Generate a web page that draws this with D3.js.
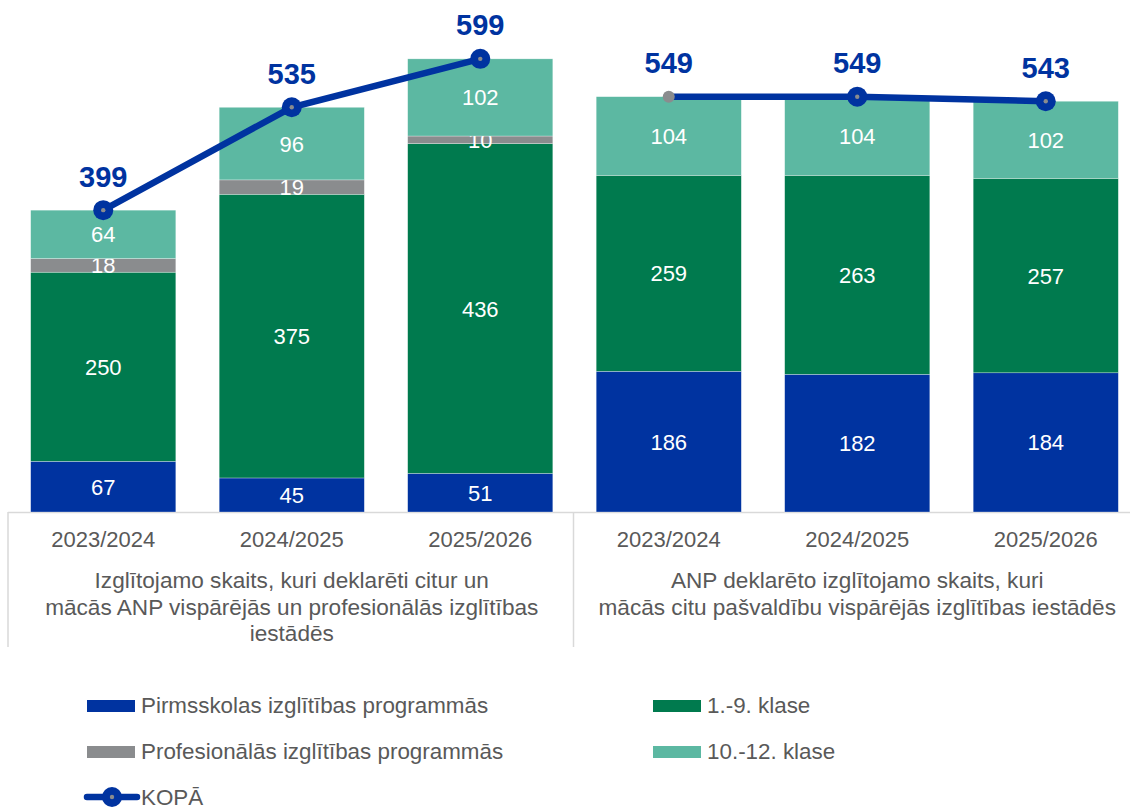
<!DOCTYPE html>
<html><head><meta charset="utf-8">
<script src="https://cdn.jsdelivr.net/npm/d3@7"></script>
<style>
html,body{margin:0;padding:0;background:#fff;}
svg{display:block;font-family:"Liberation Sans",Arial,sans-serif;}
</style></head>
<body>
<svg id="chart" width="1130" height="808"></svg>
<script>
const categories = ["2023/2024","2024/2025","2025/2026","2023/2024","2024/2025","2025/2026"];
const groupLabels = [
  ["Izglītojamo skaits, kuri deklarēti citur un","mācās ANP vispārējās un profesionālās izglītības","iestādēs"],
  ["ANP deklarēto izglītojamo skaits, kuri","mācās citu pašvaldību vispārējās izglītības iestādēs"]
];
const groupOf = [0,0,0,1,1,1];
const pirmsskolas = [67,45,51,186,182,184];
const klase1_9 = [250,375,436,259,263,257];
const profesionalas = [18,19,10,0,0,0];
const klase10_12 = [64,96,102,104,104,102];
const kopa = [399,535,599,549,549,543];
const seriesNames = ["Pirmsskolas izglītības programmās","1.-9. klase","Profesionālās izglītības programmās","10.-12. klase"];
const lineName = "KOPĀ";

const colors = ["#0033A0","#007A4E","#8A8C8E","#5CB8A2"];
const lineColor = "#0033A0";
const textGray = "#595959";

const svg = d3.select("#chart");
const idx = categories.map((c,i)=>i);
const x = d3.scaleBand().domain(idx).range([9,1140]).paddingInner(0.23).paddingOuter(0.115);
const y = d3.scaleLinear().domain([0,700]).range([512,512-0.7565*700]);

const stackData = idx.map(i=>({i, s0:pirmsskolas[i], s1:klase1_9[i], s2:profesionalas[i], s3:klase10_12[i]}));
const stack = d3.stack().keys(["s0","s1","s2","s3"]);
const layers = stack(stackData);

// axis lines
const axisColor = "#D9D9D9";
svg.append("line").attr("x1",8).attr("x2",1130).attr("y1",512.5).attr("y2",512.5).attr("stroke",axisColor).attr("stroke-width",1.5);
[8,573.5].forEach(xx=>svg.append("line").attr("x1",xx).attr("x2",xx).attr("y1",512).attr("y2",647).attr("stroke",axisColor).attr("stroke-width",1.5));

// bars
layers.forEach((layer,k)=>{
  const g = svg.append("g");
  g.selectAll("rect").data(layer).join("rect")
    .attr("x",d=>x(d.data.i)).attr("width",x.bandwidth())
    .attr("y",d=>y(d[1])).attr("height",d=>Math.max(0,y(d[0])-y(d[1])))
    .attr("fill",colors[k]).attr("stroke","#ffffff").attr("stroke-width",0.5).attr("stroke-opacity",0.6);
  g.selectAll("text").data(layer.filter(d=>d[1]-d[0]>0)).join("text")
    .attr("x",d=>x(d.data.i)+x.bandwidth()/2)
    .attr("y",d=>(y(d[0])+y(d[1]))/2+8)
    .attr("text-anchor","middle")
    .attr("fill","#fff").attr("font-size",22)
    .text(d=>d[1]-d[0]);
});

// category labels
svg.append("g").selectAll("text").data(idx).join("text")
  .attr("x",i=>x(i)+x.bandwidth()/2).attr("y",547)
  .attr("text-anchor","middle").attr("fill",textGray).attr("font-size",22)
  .text(i=>categories[i]);

// group labels
groupLabels.forEach((lines,gi)=>{
  const members = idx.filter(i=>groupOf[i]===gi);
  const cx = (x(members[0]) + x(members[members.length-1]) + x.bandwidth())/2;
  svg.append("text").attr("x",cx).attr("y",588).attr("text-anchor","middle")
    .attr("fill",textGray).attr("font-size",22.6)
    .selectAll("tspan").data(lines).join("tspan")
    .attr("x",cx).attr("dy",(d,j)=>j===0?0:26.5).text(d=>d);
});

// KOPĀ line (two separate segments per group)
const cxp = i=>x(i)+x.bandwidth()/2;
const line = d3.line().x(i=>cxp(i)).y(i=>y(kopa[i]));
[0,1].forEach(gi=>{
  const members = idx.filter(i=>groupOf[i]===gi);
  svg.append("path").datum(members).attr("d",line).attr("fill","none")
    .attr("stroke",lineColor).attr("stroke-width",6.5).attr("stroke-linecap","round");
});
idx.forEach(i=>{
  if(i===3){
    svg.append("circle").attr("cx",cxp(i)).attr("cy",y(kopa[i])).attr("r",6).attr("fill","#8A8C8E");
  } else {
    svg.append("circle").attr("cx",cxp(i)).attr("cy",y(kopa[i])).attr("r",10).attr("fill",lineColor);
    svg.append("circle").attr("cx",cxp(i)).attr("cy",y(kopa[i])).attr("r",2.2).attr("fill","#8A8C8E");
  }
  svg.append("text").attr("x",cxp(i)).attr("y",y(kopa[i])-23.5)
    .attr("text-anchor","middle").attr("fill",lineColor).attr("font-size",29).attr("font-weight","bold")
    .text(kopa[i]);
});

// legend
const legendPos = [[87,706],[653,706],[87,752],[653,752]];
seriesNames.forEach((name,k)=>{
  const [lx,ly] = legendPos[k];
  svg.append("rect").attr("x",lx).attr("y",ly-6).attr("width",48).attr("height",12).attr("fill",colors[k]);
  svg.append("text").attr("x",lx+54).attr("y",ly+6.5)
    .attr("fill",textGray).attr("font-size",22.4).text(name);
});
{
  const lx=87, ly=797;
  svg.append("line").attr("x1",lx).attr("x2",lx+50).attr("y1",ly).attr("y2",ly).attr("stroke",lineColor).attr("stroke-width",6.5).attr("stroke-linecap","round");
  svg.append("circle").attr("cx",lx+25).attr("cy",ly).attr("r",10).attr("fill",lineColor);
  svg.append("circle").attr("cx",lx+25).attr("cy",ly).attr("r",2.2).attr("fill","#8A8C8E");
  svg.append("text").attr("x",lx+54).attr("y",ly+7.5)
    .attr("fill",textGray).attr("font-size",22.4).text(lineName);
}
</script>
</body></html>
